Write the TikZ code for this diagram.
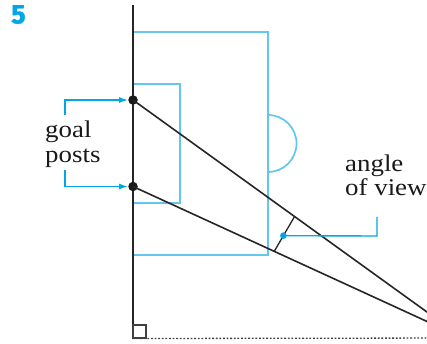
\documentclass[tikz,border=0pt]{standalone}
\usepackage{fontspec}
\usetikzlibrary{calc,arrows.meta}
\newfontfamily\labfont[FakeStretch=1.12]{Liberation Serif}
\newfontfamily\numfont[FakeBold=1.5]{Fira Sans}
\definecolor{pitchblue}{RGB}{100,198,238}
\definecolor{noteblue}{RGB}{0,166,230}
\tikzset{
  pitch/.style={draw=pitchblue, line width=1.7pt},
  sight/.style={draw=black!85, line width=1.6pt},
  note/.style={draw=noteblue, line width=1.4pt},
  notearrow/.style={note, -{Latex[length=9pt,width=6pt]}},
  lab/.style={font=\labfont\fontsize{24}{25}\selectfont, text=black!90, inner sep=0pt, anchor=base west},
  post/.style={circle, fill=black!90, inner sep=0pt, minimum size=9.5pt},
}
\begin{document}
\begin{tikzpicture}[x=1pt,y=-1pt]
\useasboundingbox (0,0) rectangle (427,343);
\clip (0,0) rectangle (427,343);
% pitch markings
\draw[pitch] (133,32) -- (268,32) -- (268,255) -- (133,255);
\draw[pitch] (133,84) -- (180,84) -- (180,203) -- (133,203);
\draw[pitch] (268,115) arc[start angle=-90, end angle=90, radius=28.5];
% goal line / sideline
\coordinate (top) at (133,5);
\coordinate (bot) at (133,338.5);
\draw[sight, line width=1.9pt] (top) -- (bot);
% viewer and goal posts
\coordinate (V) at (463,338);
\node[post] (G1) at (133,100) {};
\node[post] (G2) at (133,186.5) {};
\draw[sight] (G1.center) -- (V);
\draw[sight] (G2.center) -- (V);
% dotted line and right angle
\draw[black!75, line width=1.3pt, dash pattern=on 1.8pt off 1.8pt] (bot) -- (V);
\draw[black!75, line width=1.1pt] (133,325) rectangle (146,338);
% angle of view arc
\coordinate (A1) at ($(V)!207.7pt!(G1.center)$);
\coordinate (A2) at ($(V)!207.7pt!(G2.center)$);
\draw[sight, line width=1.3pt] (A1) -- (A2);
\coordinate (D) at ($(A1)!0.55!(A2)$);
\coordinate (C1) at (377,236);
\coordinate (C2) at (377,217);
\draw[note] (D) -- (C1) -- (C2);
\fill[noteblue] (D) circle (3.3pt);
% labels
\node[lab] (l1) at (345,171.5) {angle};
\node[lab] (l2) at (345,195.5) {of view};
\node[lab] (g1) at (45,137) {goal};
\node[lab] (g2) at (45,162) {posts};
\coordinate (B1) at (65,115);
\coordinate (B2) at (65,170);
\draw[notearrow] (B1) |- (G1.west);
\draw[notearrow] (B2) |- (G2.west);
% exercise number
\node[font=\numfont\bfseries\fontsize{27}{27}\selectfont, text=noteblue, inner sep=0pt, anchor=north west] (num) at (11,5) {5};
\end{tikzpicture}
\end{document}
